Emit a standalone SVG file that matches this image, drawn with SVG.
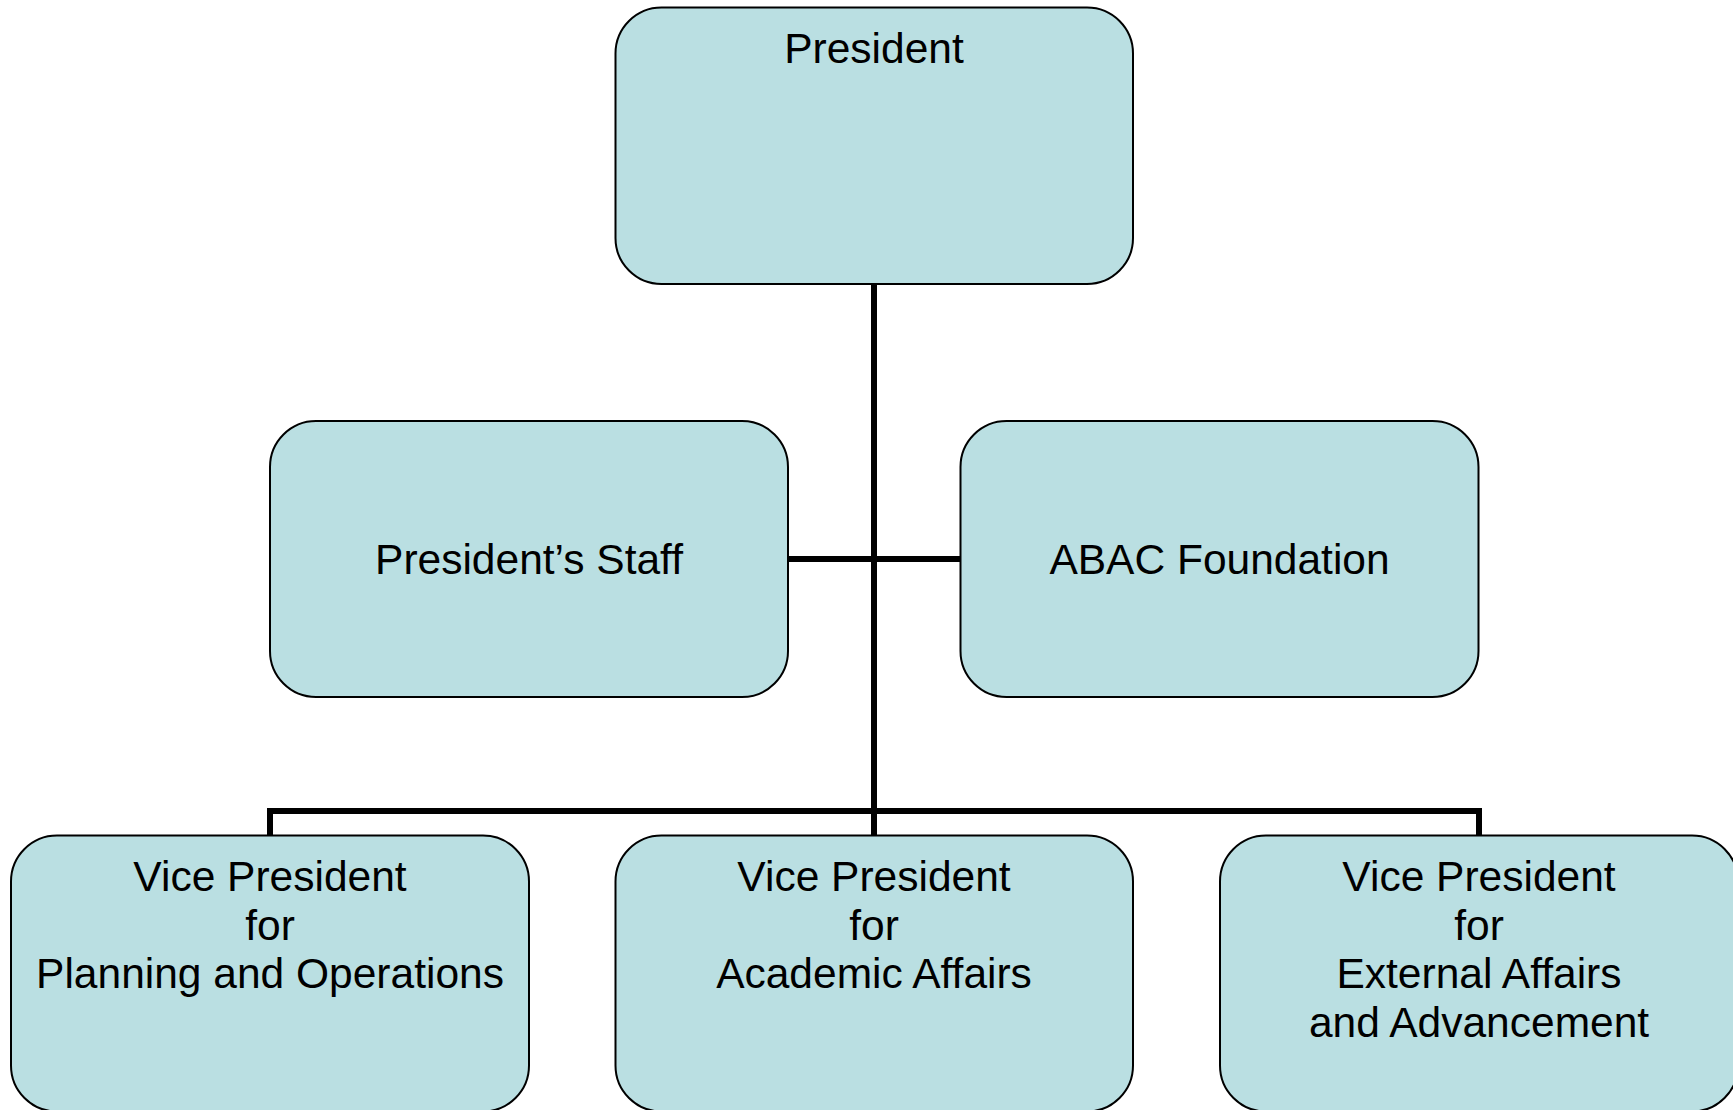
<svg xmlns="http://www.w3.org/2000/svg" width="1733" height="1110" viewBox="0 0 1733 1110">
<style>
.box{fill:#BADFE2;stroke:#000;stroke-width:2}
.lbl{font-family:"Liberation Sans",Arial,sans-serif;font-size:42.5px;fill:#000;text-anchor:middle}
.conn{fill:none;stroke:#000;stroke-width:6}
</style>
<rect width="1733" height="1110" fill="#fff"/>
<g id="connectors">
<path class="conn" d="M874,284 V811"/>
<path class="conn" d="M788,559 H960.5"/>
<path class="conn" d="M270,835.5 V811 H1479 V835.5"/>
<path class="conn" d="M874,811 V835.5"/>
</g>
<g id="president">
<rect class="box" x="615.5" y="7.5" width="517.5" height="276.5" rx="46" ry="46"/>
<text class="lbl" x="874" y="63">President</text>
</g>
<g id="presidents-staff">
<rect class="box" x="270" y="421" width="518" height="276" rx="46" ry="46"/>
<text class="lbl" x="529" y="574">President’s Staff</text>
</g>
<g id="abac-foundation">
<rect class="box" x="960.5" y="421" width="518" height="276" rx="46" ry="46"/>
<text class="lbl" x="1219.5" y="574">ABAC Foundation</text>
</g>
<g id="vp-planning">
<rect class="box" x="11" y="835.5" width="518" height="276" rx="46" ry="46"/>
<text class="lbl" x="270" y="891">Vice President</text>
<text class="lbl" x="270" y="939.5">for</text>
<text class="lbl" x="270" y="988">Planning and Operations</text>
</g>
<g id="vp-academic">
<rect class="box" x="615.5" y="835.5" width="517.5" height="276" rx="46" ry="46"/>
<text class="lbl" x="874" y="891">Vice President</text>
<text class="lbl" x="874" y="939.5">for</text>
<text class="lbl" x="874" y="988">Academic Affairs</text>
</g>
<g id="vp-external">
<rect class="box" x="1220" y="835.5" width="518" height="276" rx="46" ry="46"/>
<text class="lbl" x="1479" y="891">Vice President</text>
<text class="lbl" x="1479" y="939.5">for</text>
<text class="lbl" x="1479" y="988">External Affairs</text>
<text class="lbl" x="1479" y="1036.5">and Advancement</text>
</g>
</svg>
